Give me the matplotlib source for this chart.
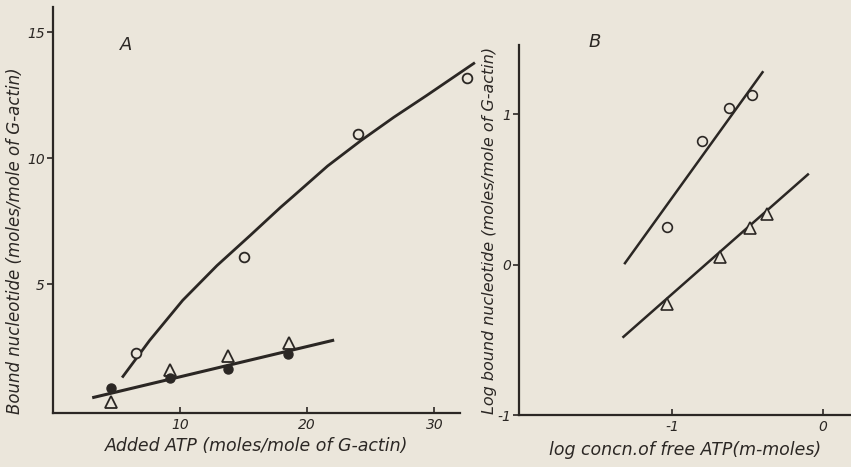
import matplotlib
matplotlib.use("Agg")
import matplotlib.pyplot as plt

# Panel A: bound nucleotide vs added ATP
a_open_x = [6.5, 15.0, 24.0, 32.6]
a_open_y = [2.27, 6.07, 10.95, 13.2]
a_fill_x = [4.6, 9.2, 13.8, 18.5]
a_fill_y = [0.88, 1.27, 1.65, 2.25]
a_tri_x = [4.6, 9.2, 13.8, 18.6]
a_tri_y = [0.33, 1.6, 2.15, 2.67]
# hand-drawn fit curves
a_curve_x = [5.5, 7.6, 10.2, 12.9, 15.5, 17.9, 18.9, 21.6, 24.2, 26.8, 29.4, 33.1]
a_curve_y = [1.35, 2.78, 4.37, 5.75, 6.94, 8.06, 8.5, 9.7, 10.7, 11.63, 12.5, 13.77]
a_line_x = [3.2, 22.0]
a_line_y = [0.52, 2.78]

# Panel B: log bound nucleotide vs log free ATP
b_open_x = [-1.03, -0.80, -0.62, -0.47]
b_open_y = [0.25, 0.82, 1.04, 1.13]
b_tri_x = [-1.03, -0.68, -0.48, -0.37]
b_tri_y = [-0.26, 0.05, 0.245, 0.34]
b_up_x = [-1.31, -0.40]
b_up_y = [0.01, 1.28]
b_lo_x = [-1.32, -0.10]
b_lo_y = [-0.48, 0.60]

bg = "#ebe6db"
ink = "#2b2724"

plt.rcParams["font.family"] = "DejaVu Sans"
plt.rcParams["font.style"] = "italic"
plt.rcParams["axes.unicode_minus"] = False

fig = plt.figure(figsize=(8.51, 4.67), dpi=100, facecolor=bg)

def style(ax):
    ax.set_facecolor(bg)
    for s in ["top", "right"]:
        ax.spines[s].set_visible(False)
    for s in ["left", "bottom"]:
        ax.spines[s].set_color(ink)
        ax.spines[s].set_linewidth(1.6)
    ax.tick_params(colors=ink, labelsize=10, width=1.2, length=4)
    ax.tick_params(axis="x", direction="in")
    ax.tick_params(axis="y", direction="out", pad=2)

axA = fig.add_axes([0.0623, 0.1156, 0.478, 0.869])
style(axA)
axA.plot(a_curve_x, a_curve_y, color=ink, lw=2, clip_on=False)
axA.plot(a_line_x, a_line_y, color=ink, lw=2.2)
axA.plot(a_open_x, a_open_y, "o", ms=7, mfc=bg, mec=ink, mew=1.3, clip_on=False)
axA.plot(a_tri_x, a_tri_y, "^", ms=8, mfc=bg, mec=ink, mew=1.3)
axA.plot(a_fill_x, a_fill_y, "o", ms=6.5, color=ink)
axA.set_xlim(0, 32)
axA.set_ylim(-0.1, 16)
axA.set_xticks([10, 20, 30])
axA.set_yticks([5, 10, 15])
axA.set_xlabel("Added ATP (moles/mole of G-actin)", fontsize=12.5, color=ink, labelpad=4)
axA.set_ylabel("Bound nucleotide (moles/mole of G-actin)", fontsize=12, color=ink)
axA.yaxis.set_label_coords(-0.072, 0.424)
axA.text(5.3, 14.3, "A", fontsize=13, color=ink)

axB = fig.add_axes([0.610, 0.1113, 0.390, 0.792])
style(axB)
axB.plot(b_up_x, b_up_y, color=ink, lw=1.8)
axB.plot(b_lo_x, b_lo_y, color=ink, lw=1.8)
axB.plot(b_open_x, b_open_y, "o", ms=7, mfc=bg, mec=ink, mew=1.2)
axB.plot(b_tri_x, b_tri_y, "^", ms=8, mfc=bg, mec=ink, mew=1.2)
axB.set_xlim(-2.01, 0.185)
axB.set_ylim(-1, 1.46)
axB.set_xticks([-1, 0])
axB.set_yticks([-1, 0, 1])
axB.set_xlabel("log concn.of free ATP(m-moles)", fontsize=12.5, color=ink, labelpad=5)
axB.set_ylabel("Log bound nucleotide (moles/mole of G-actin)", fontsize=11.5, color=ink)
axB.yaxis.set_label_coords(-0.068, 0.5)
axB.text(-1.55, 1.45, "B", fontsize=13, color=ink)

fig.savefig("out.png", dpi=100, facecolor=bg)
